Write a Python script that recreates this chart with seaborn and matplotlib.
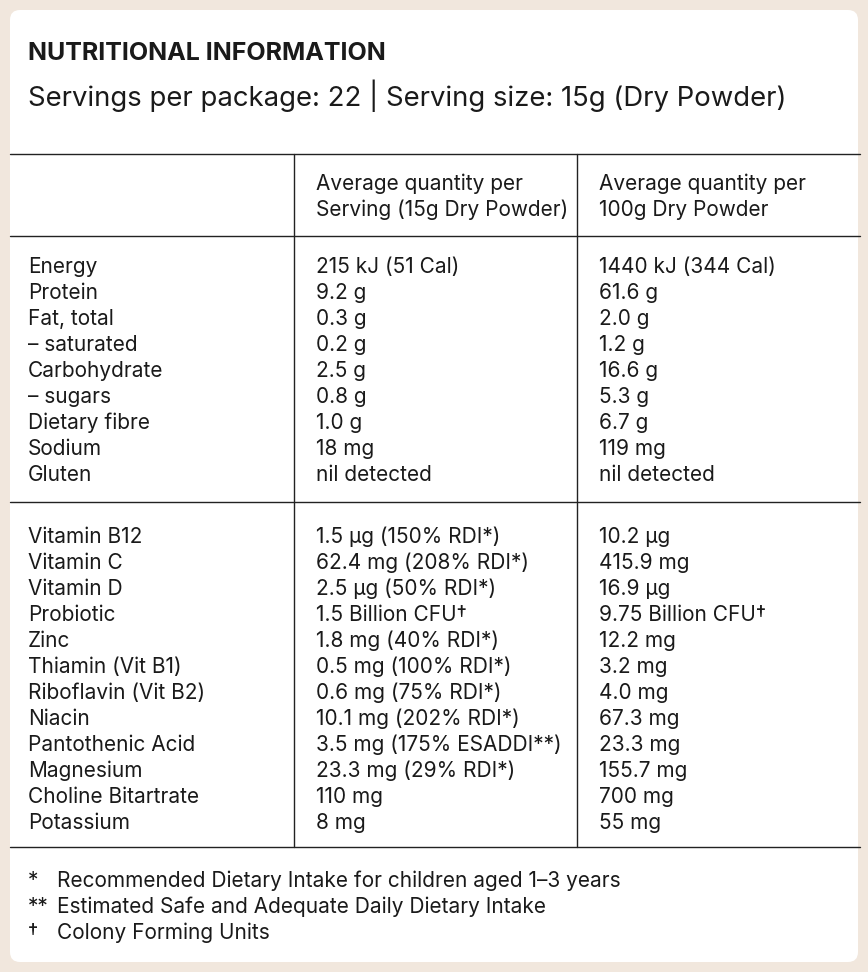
import matplotlib
matplotlib.use("Agg")
import matplotlib.pyplot as plt
import seaborn as sns
from matplotlib.patches import FancyBboxPatch

sns.set_theme(style="white")
plt.rcParams['font.family'] = ['Inter', 'DejaVu Sans']

title = "NUTRITIONAL INFORMATION"
subtitle = "Servings per package: 22 | Serving size: 15g (Dry Powder)"
col_headers = [["Average quantity per", "Serving (15g Dry Powder)"],
               ["Average quantity per", "100g Dry Powder"]]
names1 = ["Energy", "Protein", "Fat, total", "– saturated", "Carbohydrate", "– sugars",
          "Dietary fibre", "Sodium", "Gluten"]
serv1 = ["215 kJ (51 Cal)", "9.2 g", "0.3 g", "0.2 g", "2.5 g", "0.8 g", "1.0 g", "18 mg", "nil detected"]
per100_1 = ["1440 kJ (344 Cal)", "61.6 g", "2.0 g", "1.2 g", "16.6 g", "5.3 g", "6.7 g", "119 mg", "nil detected"]
names2 = ["Vitamin B12", "Vitamin C", "Vitamin D", "Probiotic", "Zinc", "Thiamin (Vit B1)",
          "Riboflavin (Vit B2)", "Niacin", "Pantothenic Acid", "Magnesium", "Choline Bitartrate", "Potassium"]
serv2 = ["1.5 µg (150% RDI*)", "62.4 mg (208% RDI*)", "2.5 µg (50% RDI*)", "1.5 Billion CFU†",
         "1.8 mg (40% RDI*)", "0.5 mg (100% RDI*)", "0.6 mg (75% RDI*)", "10.1 mg (202% RDI*)",
         "3.5 mg (175% ESADDI**)", "23.3 mg (29% RDI*)", "110 mg", "8 mg"]
per100_2 = ["10.2 µg", "415.9 mg", "16.9 µg", "9.75 Billion CFU†", "12.2 mg", "3.2 mg", "4.0 mg",
            "67.3 mg", "23.3 mg", "155.7 mg", "700 mg", "55 mg"]
foot_marks = ["*", "**", "†"]
foot_texts = ["Recommended Dietary Intake for children aged 1–3 years",
              "Estimated Safe and Adequate Daily Dietary Intake",
              "Colony Forming Units"]

W, H = 868, 972
fig = plt.figure(figsize=(W/100, H/100), dpi=100, facecolor="#f1e7dd")
ax = fig.add_axes([0, 0, 1, 1])
ax.set_xlim(0, W); ax.set_ylim(H, 0); ax.axis("off")
ax.add_patch(FancyBboxPatch((10, 10), 848, 952, boxstyle="round,pad=0,rounding_size=10",
                            fc="white", ec="none"))
tc = "#1a1a1a"
ax.text(28, 53, title, fontsize=18, fontweight="bold", color=tc, va="center")
ax.text(28, 96, subtitle, fontsize=19.8, color=tc, va="center")
lc = "#222222"
for y in [154, 236, 502, 847]:
    ax.plot([10, 860], [y, y], color=lc, lw=1)
for x in [294, 577]:
    ax.plot([x, x], [154, 847], color=lc, lw=1)
fs = 15
for j, (x, hdr) in enumerate(zip([316, 599], col_headers)):
    for k, line in enumerate(hdr):
        ax.text(x, 184 + 26*k, line, fontsize=fs, color=tc, va="center")

def block(y0, names, a, b):
    for i, (n, s, p) in enumerate(zip(names, a, b)):
        y = y0 + 26*i
        ax.text(28, y, n, fontsize=fs, color=tc, va="center")
        ax.text(316, y, s, fontsize=fs, color=tc, va="center")
        ax.text(599, y, p, fontsize=fs, color=tc, va="center")

block(267, names1, serv1, per100_1)
block(537, names2, serv2, per100_2)
for i, (m, t) in enumerate(zip(foot_marks, foot_texts)):
    y = 881 + 26*i
    ax.text(28, y, m, fontsize=fs, color=tc, va="center")
    ax.text(57, y, t, fontsize=fs, color=tc, va="center")

fig.savefig("out.png", dpi=100, facecolor=fig.get_facecolor())
